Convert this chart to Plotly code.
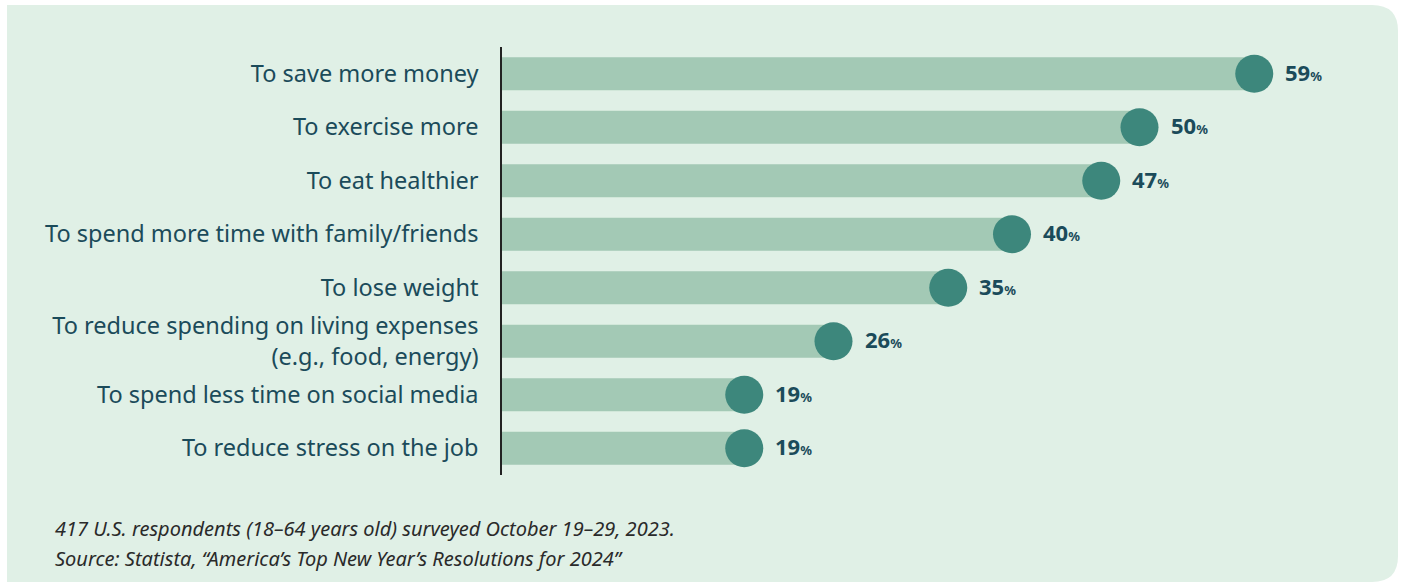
import plotly.graph_objects as go

categories = [
    "To save more money",
    "To exercise more",
    "To eat healthier",
    "To spend more time with family/friends",
    "To lose weight",
    "To reduce spending on living expenses<br>(e.g., food, energy)",
    "To spend less time on social media",
    "To reduce stress on the job",
]
values = [59, 50, 47, 40, 35, 26, 19, 19]
footnote_lines = [
    "417 U.S. respondents (18–64 years old) surveyed October 19–29, 2023.",
    "Source: Statista, “America’s Top New Year’s Resolutions for 2024”",
]

W, H = 1403, 583
L, R, T, B = 502, 34, 47, 108
XMAX = 68
pw = W - L - R
ph = H - T - B

def px_x(p):
    return (p - L) / pw

def px_y(p):
    return 1 - (p - T) / ph

BAR = "#a3c9b5"
DOT = "#3d877c"
TXT = "#1b4b5a"
BG = "#e0f0e6"
FONT = "Noto Sans, Open Sans, sans-serif"

fig = go.Figure()
fig.add_trace(go.Bar(
    x=values, y=categories, orientation="h",
    marker=dict(color=BAR, line=dict(width=0)),
    width=0.62, hoverinfo="skip",
))
fig.add_trace(go.Scatter(
    x=values, y=categories, mode="markers",
    marker=dict(size=38, color=DOT, line=dict(width=0)),
    hoverinfo="skip",
))

for c, v in zip(categories, values):
    fig.add_annotation(
        x=v, y=c, xref="x", yref="y",
        text=f"<b>{v}</b><span style='font-size:13px'><b>%</b></span>",
        showarrow=False, xanchor="left", xshift=29, yshift=2,
        font=dict(family=FONT, size=22, color=TXT),
    )

for i, line in enumerate(footnote_lines):
    fig.add_annotation(
        x=px_x(53), y=px_y(528 + i * 30.5), xref="paper", yref="paper",
        text=f"<i>{line}</i>", showarrow=False, xanchor="left", yanchor="middle",
        font=dict(family=FONT, size=20, color="#2a2a2a"),
    )

# rounded background panel
x0, x1 = px_x(7), px_x(1398)
y0, y1 = px_y(582), px_y(5)
rx = 26 / pw
ry = 26 / ph
path = (f"M {x0},{y0} L {x1 - rx},{y0} Q {x1},{y0} {x1},{y0 + ry} "
        f"L {x1},{y1 - ry} Q {x1},{y1} {x1 - rx},{y1} L {x0},{y1} Z")
fig.add_shape(type="path", path=path, xref="paper", yref="paper",
              fillcolor=BG, line=dict(width=0), layer="below")

fig.update_layout(
    width=W, height=H,
    margin=dict(l=L, r=R, t=T, b=B),
    paper_bgcolor="white", plot_bgcolor="rgba(0,0,0,0)",
    showlegend=False,
    xaxis=dict(range=[0, XMAX], visible=False, fixedrange=True),
    yaxis=dict(
        range=[len(categories) - 0.5, -0.5], showgrid=False, zeroline=False,
        showline=True, linecolor="#222222", linewidth=1.5,
        ticks="outside", ticklen=17, tickcolor="rgba(0,0,0,0)",
        tickfont=dict(family=FONT, size=23.5, color=TXT),
        fixedrange=True,
    ),
)

fig.write_html("out.html", config={"displayModeBar": False},
               post_script="document.body.style.margin='0';document.body.style.overflow='hidden';")
